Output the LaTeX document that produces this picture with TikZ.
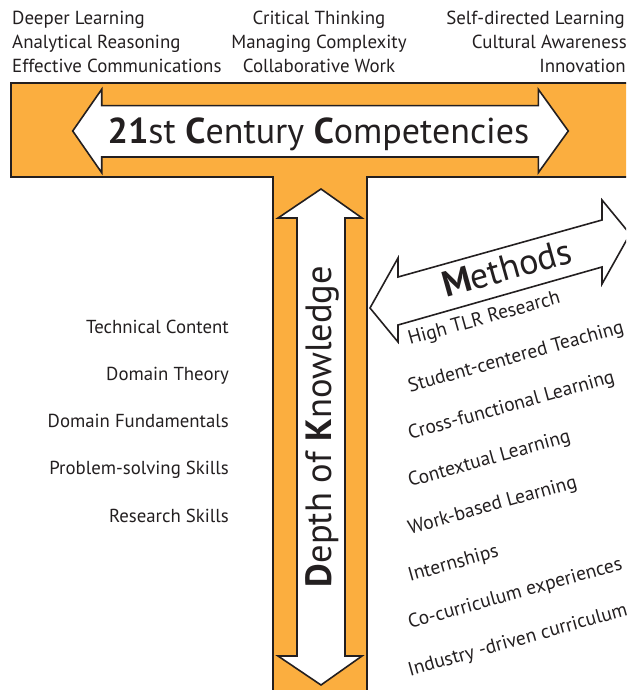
\documentclass[tikz,border=0pt]{standalone}
\usepackage{fontspec}
\setmainfont{PT Sans}
\definecolor{tor}{HTML}{FBAE3F}
\definecolor{ink}{HTML}{231F20}
\tikzset{
  shape line/.style={draw=ink, line width=1.6pt, line join=miter},
  toptxt/.style={inner sep=0pt, text=ink, font=\fontsize{18.9}{21}\selectfont},
  lefttxt/.style={inner sep=0pt, text=ink, anchor=base east, font=\fontsize{18.8}{21}\selectfont},
  methtxt/.style={inner sep=0pt, text=ink, anchor=base west, rotate=15.6, font=\fontsize{19.5}{21}\selectfont},
}
\begin{document}
\begin{tikzpicture}[x=1pt,y=-1pt]
\useasboundingbox (0,0) rectangle (626,690);
\clip (0,0) rectangle (626,690);
% orange T
\path[shape line, fill=tor] (11,83) -- (660,83) -- (660,177) -- (367,177) -- (367,720)
  -- (273,720) -- (273,177) -- (11,177) -- cycle;
% horizontal double arrow
\path[shape line, fill=white] (72.7,131) -- (101.7,89.3) -- (101.7,105.7) -- (538.3,105.7)
  -- (538.3,89.3) -- (568.3,131) -- (538.3,172.7) -- (538.3,157) -- (101.7,157)
  -- (101.7,172.7) -- cycle;
% vertical double arrow
\path[shape line, fill=white] (321,189) -- (362,218) -- (345,218) -- (345,656) -- (362,656)
  -- (321,685) -- (278,656) -- (297,656) -- (297,218) -- (278,218) -- cycle;
% methods arrow (sheared)
\path[shape line, fill=white] (370,308) -- (398,258) -- (398,277) -- (602,220) -- (602,200)
  -- (630,234) -- (602,284) -- (602,267) -- (398,325) -- (398,342) -- cycle;
% titles
\node[inner sep=0pt, text=ink, anchor=base, font=\fontsize{36}{38}\selectfont] (comp) at (318.5,143)
  {\textbf{21}st \textbf{C}entury \textbf{C}ompetencies};
\node[inner sep=0pt, text=ink, anchor=base, rotate=90, font=\fontsize{36.5}{40}\selectfont] (dok) at (331.5,426.5)
  {\textbf{D}epth of \textbf{K}nowledge};
\node[inner sep=0pt, text=ink, anchor=base, rotate=15.6, font=\fontsize{36}{40}\selectfont] (meth) at (510,280)
  {\textbf{M}ethods};
% top competencies
\node[toptxt, anchor=base west] (t11) at (12,25) {Deeper Learning};
\node[toptxt, anchor=base west] (t12) at (12,49) {Analytical Reasoning};
\node[toptxt, anchor=base west] (t13) at (12,72.7) {Effective Communications};
\node[toptxt, anchor=base] (t21) at (319,25) {Critical Thinking};
\node[toptxt, anchor=base] (t22) at (319,49) {Managing Complexity};
\node[toptxt, anchor=base] (t23) at (319,72.7) {Collaborative Work};
\node[toptxt, anchor=base east] (t31) at (625,25) {Self-directed Learning};
\node[toptxt, anchor=base east] (t32) at (627,49) {Cultural Awareness};
\node[toptxt, anchor=base east] (t33) at (626,72.7) {Innovation};
% depth list
\node[lefttxt] (l1) at (229,333.3) {Technical Content};
\node[lefttxt] (l2) at (229,380.5) {Domain Theory};
\node[lefttxt] (l3) at (229,427.7) {Domain Fundamentals};
\node[lefttxt] (l4) at (229,474.9) {Problem-solving Skills};
\node[lefttxt] (l5) at (229,522) {Research Skills};
% methods list
\node[methtxt] (m1) at (410,345) {High TLR Research};
\node[methtxt] (m2) at (410,392.3) {Student-centered Teaching};
\node[methtxt] (m3) at (410,439.6) {Cross-functional Learning};
\node[methtxt] (m4) at (410,486.9) {Contextual Learning};
\node[methtxt] (m5) at (410,534.2) {Work-based Learning};
\node[methtxt] (m6) at (410,581.5) {Internships};
\node[methtxt] (m7) at (410,628.8) {Co-curriculum experiences};
\node[methtxt] (m8) at (410,676.1) {Industry -driven curriculum};
\end{tikzpicture}
\end{document}
